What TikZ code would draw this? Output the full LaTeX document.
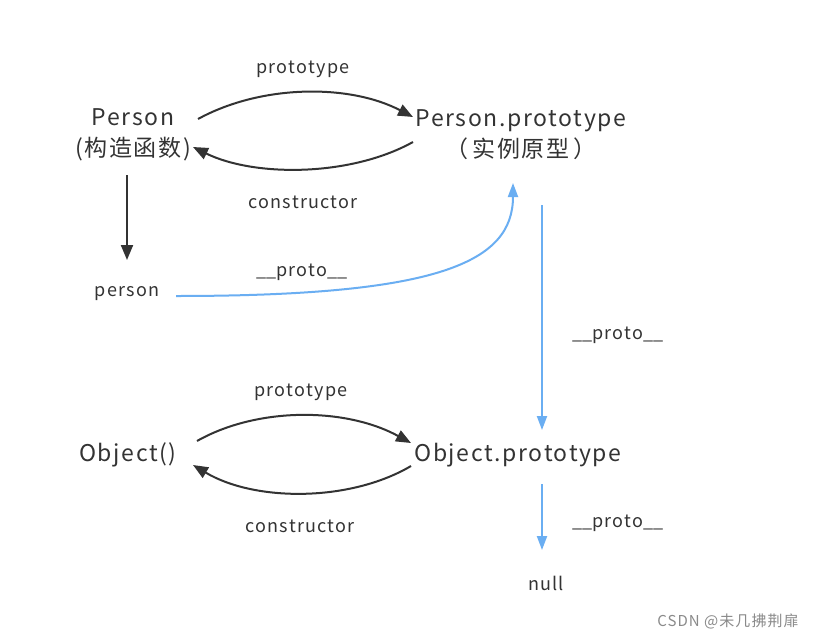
\documentclass[tikz,border=0pt]{standalone}
\usepackage{fontspec}
\setmainfont{Noto Sans CJK SC}
\newfontfamily\spaced[LetterSpace=7]{Noto Sans CJK SC}
\usetikzlibrary{arrows.meta,calc}
\definecolor{dk}{HTML}{333333}
\definecolor{bl}{HTML}{6AAEF2}
\definecolor{wm}{HTML}{8A8A8A}
\newcommand{\uu}{{\rmfamily\_\_}}
\begin{document}
\begin{tikzpicture}[x=1pt,y=-1pt,
  big/.style={font=\spaced\fontsize{23}{31}\selectfont,text=dk,align=center,inner sep=0pt},
  lbl/.style={font=\spaced\fontsize{18}{20}\selectfont,text=dk,inner sep=0pt},
  darr/.style={draw=dk,line width=2pt,-{Triangle[length=15pt,width=12pt]}},
  barr/.style={draw=bl,line width=2pt,-{Triangle[length=14pt,width=10pt]}}]
\useasboundingbox[fill=white] (0,0) rectangle (830,640);
% nodes
\node[big] (P) at (133,135) {Person\\(构造函数)};
\node[big] (PP) at (521,135) {Person.prototype\\（\,实例原型\,）};
\node[lbl] (ps) at (127,294) {person};
\node[big] (O) at (128,455) {Object()};
\node[big] (OP) at (518,455) {Object.prototype};
\node[lbl] (nl) at (546,583) {null};
% labels
\node[lbl] (l1) at (303,69) {prototype};
\node[lbl] (l2) at (303,202) {constructor};
\node[lbl] (l3) at (302,272) {\uu proto\uu};
\node[lbl] (l4) at (618,335) {\uu proto\uu};
\node[lbl] (l5) at (301,392) {prototype};
\node[lbl] (l6) at (300,526) {constructor};
\node[lbl] (l7) at (618,523) {\uu proto\uu};
\node[font=\spaced\fontsize{15}{18}\selectfont,text=wm,inner sep=0pt] (wmk) at (728,621) {CSDN @未几拂荆扉};
% connectors
\draw[darr] ($(P)+(65,-16)$) .. controls (262,84) and (350,84) .. ($(PP)+(-108,-18)$);
\draw[darr] ($(PP)+(-108,7)$) .. controls (350,177) and (254,177) .. ($(P)+(60,12)$);
\draw[darr] ($(P)+(-6,40)$) -- ($(ps)+(0,-34)$);
\draw[barr] ($(ps)+(49,2)$) .. controls (440,296) and (513,262) .. ($(PP)+(-8,48)$);
\draw[barr] ($(PP)+(21,70)$) -- ($(OP)+(24,-25)$);
\draw[darr] ($(O)+(69,-14)$) .. controls (257,407) and (345,407) .. ($(OP)+(-107,-12)$);
\draw[darr] ($(OP)+(-107,11)$) .. controls (350,502) and (255,502) .. ($(O)+(65,10)$);
\draw[barr] ($(OP)+(24,29)$) -- ($(nl)+(-4,-33)$);
\end{tikzpicture}
\end{document}
